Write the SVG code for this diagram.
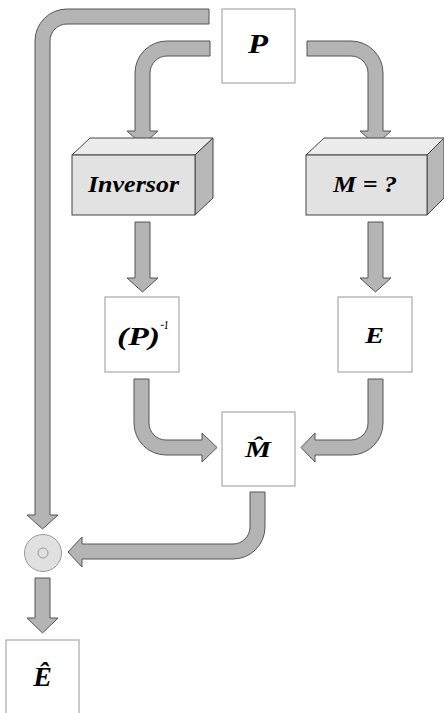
<svg xmlns="http://www.w3.org/2000/svg" width="444" height="713" viewBox="0 0 444 713">
<style>
.conn path{fill:#b4b4b4;stroke:#555;stroke-width:1;stroke-linejoin:miter}
.box{fill:#fff;stroke:#a8a8a8;stroke-width:1.2}
.front{fill:#e2e2e2;stroke:#444;stroke-width:1}
.top{fill:#ececec;stroke:#444;stroke-width:1}
.side{fill:#b8b8b8;stroke:#444;stroke-width:1}
.t{font-family:"Liberation Serif","Times New Roman",serif;font-weight:bold;font-style:italic;fill:#000}
.m{text-anchor:middle}
</style>
<rect width="444" height="713" fill="#fff"/>
<g class="conn" id="connectors">
<path d="M 209 9 L 67 9 A 32 32 0 0 0 35 41 L 35 515 L 27 515 L 42.5 529 L 58 515 L 50 515 L 50 41 A 17 17 0 0 1 67 24 L 209 24 Z"/>
<path d="M 210 41 L 167 41 A 32 32 0 0 0 135 73 L 135 131 L 127 131 L 142.5 145 L 158 131 L 150 131 L 150 73 A 17 17 0 0 1 167 56 L 210 56 Z"/>
<path d="M 307 41 L 351 41 A 32 32 0 0 1 383 73 L 383 131 L 391 131 L 375.5 145 L 360 131 L 368 131 L 368 73 A 17 17 0 0 0 351 56 L 307 56 Z"/>
<path d="M 135 222 L 150 222 L 150 278 L 158 278 L 142.5 292 L 127 278 L 135 278 Z"/>
<path d="M 368 222 L 383 222 L 383 278 L 391 278 L 375.5 292 L 360 278 L 368 278 Z"/>
<path d="M 134 379 L 134 423 A 32 32 0 0 0 166 455 L 202 455 L 202 462 L 217 447.5 L 202 433 L 202 440 L 166 440 A 17 17 0 0 1 149 423 L 149 379 Z"/>
<path d="M 383 379 L 383 423 A 32 32 0 0 1 351 455 L 315 455 L 315 462 L 301 447.5 L 315 433 L 315 440 L 351 440 A 17 17 0 0 0 368 423 L 368 379 Z"/>
<path d="M 265 492 L 265 527 A 32 32 0 0 1 233 559 L 82 559 L 82 567 L 68 552 L 82 537 L 82 544 L 233 544 A 17 17 0 0 0 250 527 L 250 492 Z"/>
<path d="M 35 578 L 50 578 L 50 618 L 58 618 L 42.5 633 L 27 618 L 35 618 Z"/>
</g>
<g id="node-P">
<rect class="box" x="222" y="9" width="73" height="74"/>
<text class="t" x="248" y="53" font-size="27" textLength="20" lengthAdjust="spacingAndGlyphs">P</text>
</g>
<g id="node-inversor">
<polygon class="top" points="72,155 90,138 213,138 195,155"/>
<polygon class="side" points="195,155 213,138 213,198 195,215"/>
<rect class="front" x="72" y="155" width="123" height="60"/>
<text class="t" x="88" y="192" font-size="23" textLength="91" lengthAdjust="spacingAndGlyphs">Inversor</text>
</g>
<g id="node-M">
<polygon class="top" points="306,155 324,138 444,138 427,155"/>
<polygon class="side" points="427,155 444,138 444,198 427,215"/>
<rect class="front" x="306" y="155" width="121" height="60"/>
<text class="t" x="333" y="192" font-size="23" textLength="64" lengthAdjust="spacingAndGlyphs">M = ?</text>
</g>
<g id="node-Pinv">
<rect class="box" x="105" y="297" width="74" height="75"/>
<text class="t" x="117" y="345" font-size="26" textLength="43" lengthAdjust="spacingAndGlyphs">(P)</text>
<text class="t" x="160" y="329" font-size="12" textLength="8" lengthAdjust="spacingAndGlyphs">−1</text>
</g>
<g id="node-E">
<rect class="box" x="338" y="297" width="74" height="75"/>
<text class="t" x="365" y="343" font-size="23" textLength="19" lengthAdjust="spacingAndGlyphs">E</text>
</g>
<g id="node-Mhat">
<rect class="box" x="222" y="412" width="73" height="74"/>
<text class="t" x="245" y="457" font-size="23" textLength="26" lengthAdjust="spacingAndGlyphs">M̂</text>
</g>
<g id="node-op">
<circle cx="43" cy="553" r="18.5" fill="#e0e0e0" stroke="#999" stroke-width="1"/>
<circle cx="43" cy="553" r="5" fill="none" stroke="#999" stroke-width="1"/>
</g>
<g id="node-Ehat">
<rect class="box" x="6" y="640" width="73" height="80"/>
<text class="t m" x="42.5" y="686" font-size="28">Ê</text>
</g>
</svg>
